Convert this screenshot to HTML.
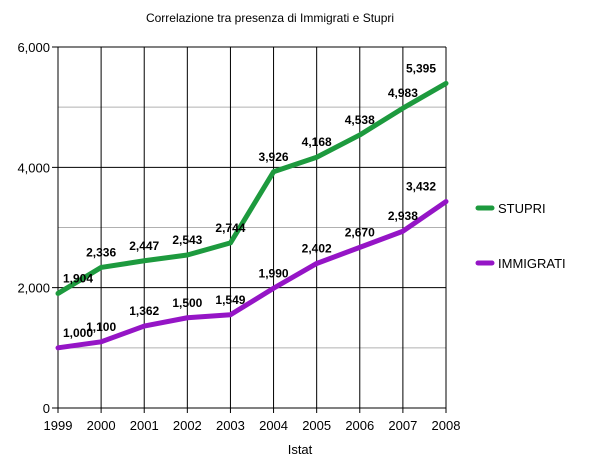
<!DOCTYPE html>
<html><head><meta charset="utf-8"><style>
body{margin:0;background:#fff;font-family:"Liberation Sans",Arial,sans-serif}
</style></head><body>
<svg width="600" height="463" viewBox="0 0 600 463" font-family="Liberation Sans, Arial, sans-serif">
<text x="270" y="22" font-size="12" text-anchor="middle">Correlazione tra presenza di Immigrati e Stupri</text>
<g id="grid"></g><g id="axes"></g><g id="series"></g><g id="labels"></g>
<text x="300" y="454" font-size="13" text-anchor="middle">Istat</text>
<g>
<line x1="478" y1="208" x2="492" y2="208" stroke="#1d9a3e" stroke-width="5" stroke-linecap="round"/>
<text x="498" y="213" font-size="13">STUPRI</text>
<line x1="478" y1="263" x2="492" y2="263" stroke="#9515c6" stroke-width="5" stroke-linecap="round"/>
<text x="498" y="268" font-size="13">IMMIGRATI</text>
</g>
</svg>
<script>
const years=["1999","2000","2001","2002","2003","2004","2005","2006","2007","2008"];
const stupri=[1904,2336,2447,2543,2744,3926,4168,4538,4983,5395];
const immigrati=[1000,1100,1362,1500,1549,1990,2402,2670,2938,3432];
const yTicks=[0,2000,4000,6000];
const yMinor=[1000,3000,5000];
const NS="http://www.w3.org/2000/svg";
const X0=58,X1=446,Y0=408,Y1=47,YMAX=6000;
const xs=i=>X0+(X1-X0)*i/(years.length-1);
const ys=v=>Y0-(Y0-Y1)*v/YMAX;
function mk(tag,attrs,parent,txt){const e=document.createElementNS(NS,tag);for(const k in attrs)e.setAttribute(k,attrs[k]);if(txt!=null)e.textContent=txt;parent.appendChild(e);return e;}
const grid=document.getElementById('grid'),axes=document.getElementById('axes'),ser=document.getElementById('series'),lab=document.getElementById('labels');
yMinor.forEach(v=>{const l=mk('line',{x1:X0,x2:X1,y1:ys(v),y2:ys(v),stroke:'#b0b0b0','stroke-width':1},grid);

});
yTicks.forEach(v=>{const l=mk('line',{x1:X0-6,x2:X1,y1:ys(v),y2:ys(v),stroke:'#000','stroke-width':1},grid);


const t=mk('text',{x:X0-8,y:ys(v)+5,'font-size':13,'text-anchor':'end'},axes,v.toLocaleString('en-US'));

});
years.forEach((y,i)=>{const l=mk('line',{x1:xs(i),x2:xs(i),y1:Y1,y2:Y0+5,stroke:'#000','stroke-width':1},grid);


const t=mk('text',{x:xs(i),y:Y0+22,'font-size':13,'text-anchor':'middle'},axes,y);

});
function draw(data,color,name){
const p=mk('polyline',{points:data.map((v,i)=>xs(i)+','+ys(v)).join(' '),fill:'none',stroke:color,'stroke-width':5,'stroke-linejoin':'round','stroke-linecap':'round'},ser);


data.forEach((v,i)=>{const cx=Math.min(421,Math.max(78,xs(i)));
const t=mk('text',{x:cx,y:ys(v)-11,'font-size':12,'font-weight':'bold','text-anchor':'middle'},lab,v.toLocaleString('en-US'));

});}
draw(stupri,'#1d9a3e','stupri');
draw(immigrati,'#9515c6','immigrati');
</script>
</body></html>
